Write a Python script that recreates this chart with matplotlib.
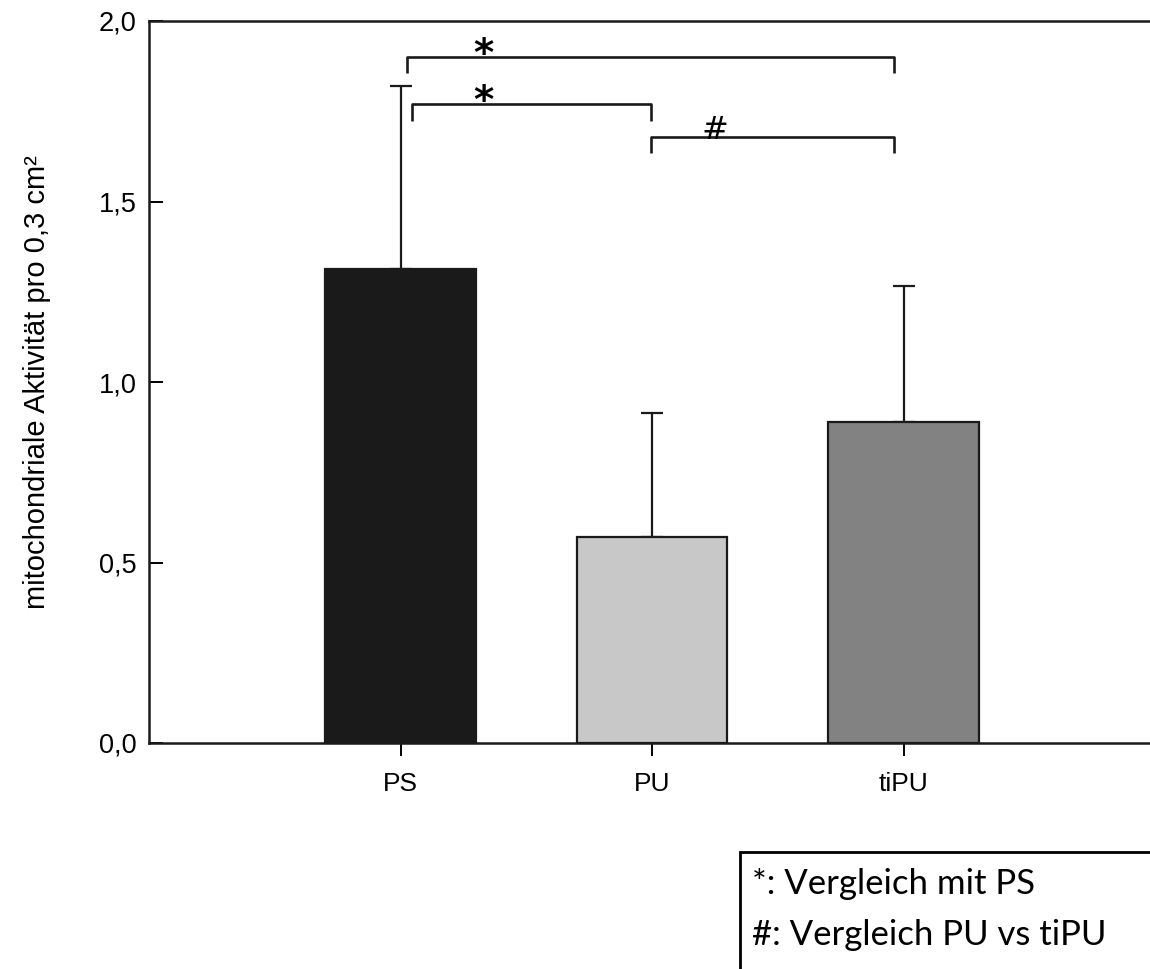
import matplotlib.pyplot as plt
from matplotlib.patches import Rectangle

# Data
groups = ["PS", "PU", "tiPU"]
means = [1.313, 0.572, 0.888]
sd_upper = [0.507, 0.343, 0.377]
bar_colors = ["#1a1a1a", "#c8c8c8", "#828282"]

yticks = [0.0, 0.5, 1.0, 1.5, 2.0]
ytick_labels = ["0,0", "0,5", "1,0", "1,5", "2,0"]

# significance brackets: (start, end, height, drop, symbol, symbol x)
brackets = [
    (0.024, 1.964, 1.900, 0.045, "*", 0.33),
    (0.044, 0.996, 1.769, 0.045, "*", 0.33),
    (0.996, 1.964, 1.678, 0.045, "#", 1.25),
]

legend_lines = ["*: Vergleich mit PS", "#: Vergleich PU vs tiPU"]

plt.rcParams["font.family"] = ["Liberation Sans", "DejaVu Sans"]

fig = plt.figure(figsize=(11.5, 9.69), dpi=100)
ax = fig.add_axes([149 / 1150, 1 - 743 / 969, 1 - 149 / 1150, (743 - 21) / 969])

x = list(range(len(groups)))
ax.bar(x, means, width=0.6, color=bar_colors, edgecolor="#1a1a1a",
       linewidth=1.6, zorder=2)
ax.errorbar(x, means, yerr=[[0] * len(x), sd_upper], fmt="none",
            ecolor="#1a1a1a", elinewidth=1.6, capsize=8, capthick=1.6,
            zorder=1)

for x0, x1, h, d, sym, sx in brackets:
    ax.plot([x0, x0, x1, x1], [h - d, h, h, h - d], color="#1a1a1a",
            lw=1.9, solid_capstyle="butt", clip_on=False)
    if sym == "*":
        ax.text(sx, h + 0.006, sym, ha="center", va="center", fontsize=28,
                fontweight="bold", family="DejaVu Sans")
    else:
        ax.text(sx, h + 0.02, sym, ha="center", va="center", fontsize=23,
                family="DejaVu Sans")

ax.set_xlim(-1.0, 2.98)
ax.set_ylim(0, 2.0)
ax.set_xticks(x)
ax.set_xticklabels(groups, fontsize=19)
ax.set_yticks(yticks)
ax.set_yticklabels(ytick_labels, fontsize=19.5)
ax.tick_params(axis="y", direction="in", length=10, width=1.4, pad=9)
ax.tick_params(axis="x", direction="out", length=9, width=1.4, pad=12)
ax.spines["right"].set_visible(False)
for s in ["left", "top", "bottom"]:
    ax.spines[s].set_linewidth(1.8)
    ax.spines[s].set_color("#1a1a1a")
ax.set_ylabel("mitochondriale Aktivität pro 0,3 cm²", fontsize=21,
              labelpad=34)

# legend box in lower right, partly cut off by the figure edge
fig.patches.append(Rectangle((740 / 1150, -0.05), 0.5, 0.05 + 1 - 852 / 969,
                             transform=fig.transFigure, fill=False,
                             edgecolor="black", linewidth=2.0))
for i, line in enumerate(legend_lines):
    fig.text(752 / 1150, 1 - (884 + 51 * i) / 969, line, fontsize=25,
             family=["Lato", "DejaVu Sans"], va="center", ha="left")

fig.savefig("out.png", dpi=100)
